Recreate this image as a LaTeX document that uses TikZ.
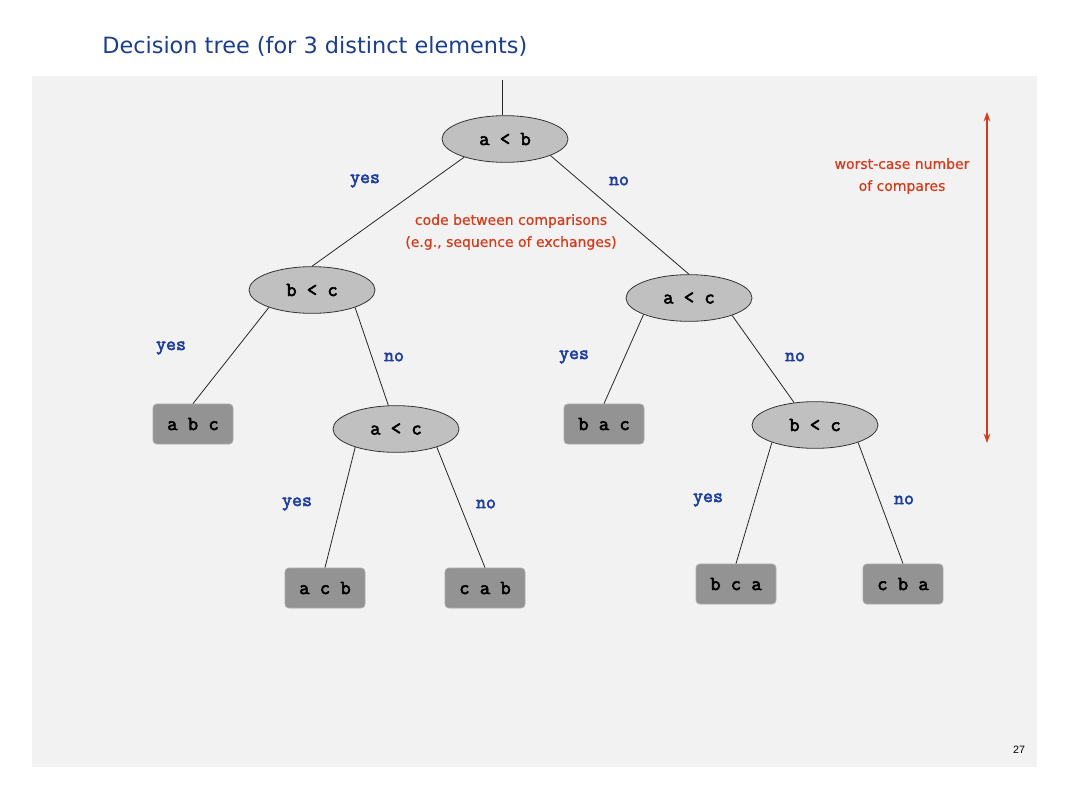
\documentclass[tikz,border=0pt]{standalone}
\usepackage{fontspec}
\setmainfont{DejaVu Sans}
\newfontfamily\codefont{Latin Modern Mono}[FakeBold=3]
\newfontfamily\comicfont{DejaVu Sans}
\newfontfamily\notefont{DejaVu Sans}[FakeBold=0.6]
\newfontfamily\numfont{Liberation Sans}
\usetikzlibrary{shapes.geometric,arrows.meta}
\definecolor{bgray}{HTML}{F2F2F2}
\definecolor{titleblue}{HTML}{1B3F8B}
\definecolor{labblue}{HTML}{1E3F9E}
\definecolor{redtxt}{HTML}{D43A1C}
\definecolor{ellfill}{HTML}{C0C0C0}
\definecolor{leaffill}{HTML}{939393}
\definecolor{leafdraw}{HTML}{A8A8A8}
\tikzset{
  cmp/.style={ellipse, draw=black!80, fill=ellfill, line width=0.6pt, minimum width=94.5pt, minimum height=35pt, inner sep=0pt, font=\codefont\fontsize{15}{17}\selectfont},
  leaf/.style={rectangle, rounded corners=3pt, draw=leafdraw, fill=leaffill, line width=0.6pt, minimum width=60pt, minimum height=30pt, inner sep=0pt, font=\codefont\fontsize{15}{17}\selectfont},
  lab/.style={text=labblue, font=\codefont\fontsize{14.5}{16}\selectfont, inner sep=0pt},
  note/.style={text=redtxt, font=\notefont\fontsize{10.5}{16.5}\selectfont, align=center, inner sep=0pt},
  edge/.style={draw=black!85, line width=0.6pt}
}
\begin{document}
\begin{tikzpicture}[x=0.75pt,y=-0.75pt]
\useasboundingbox (0,0) rectangle (1077,796);
\fill[white] (0,0) rectangle (1077,796);
\fill[bgray] (32,76) rectangle (1037,767);
\node[anchor=west, text=titleblue, font=\comicfont\fontsize{16.8}{19}\selectfont, inner sep=0pt] (title) at (102,46) {Decision tree (for 3 distinct elements)};

\node[cmp] (root) at (505,139) {a < b};
\node[cmp] (bc1) at (312,290) {b < c};
\node[cmp] (ac2) at (689,298) {a < c};
\node[cmp] (ac1) at (396,429) {a < c};
\node[cmp] (bc2) at (815,425) {b < c};

\node[leaf] (abc) at (193,424) {a b c};
\node[leaf] (bac) at (604,424) {b a c};
\node[leaf] (acb) at (325,588) {a c b};
\node[leaf] (cab) at (485,588) {c a b};
\node[leaf] (bca) at (736,584) {b c a};
\node[leaf] (cba) at (903,584) {c b a};

\coordinate (top) at (502,80);
\draw[edge] (top) -- (top |- root.north);
\draw[edge] (root.204) -- (bc1.north);
\draw[edge] (root.340) -- (ac2.north);
\draw[edge] (bc1.202) -- (abc.north);
\draw[edge] (bc1.338) -- (ac1.108);
\draw[edge] (ac2.200) -- (bac.north);
\draw[edge] (ac2.338) -- (bc2.133);
\draw[edge] (ac1.204) -- (acb.north);
\draw[edge] (ac1.336) -- (cab.north);
\draw[edge] (bc2.202) -- (bca.north);
\draw[edge] (bc2.338) -- (cba.north);

\node[lab] (l1) at (365,181) {yes};
\node[lab] (l2) at (619,181) {no};
\node[lab] (l3) at (171,348) {yes};
\node[lab] (l4) at (394,357) {no};
\node[lab] (l5) at (574,357) {yes};
\node[lab] (l6) at (795,357) {no};
\node[lab] (l7) at (297,504) {yes};
\node[lab] (l8) at (486,504) {no};
\node[lab] (l9) at (708,500) {yes};
\node[lab] (l10) at (904,500) {no};

\node[note] (code) at (511,232) {code between comparisons\\(e.g., sequence of exchanges)};
\node[note] (worst) at (902,176) {worst-case number\\of compares};

\coordinate (atop) at (987,112);
\coordinate (abot) at (987,443);
\draw[redtxt, line width=1.4pt, {Stealth[length=7pt,width=5pt]}-{Stealth[length=7pt,width=5pt]}] (atop) -- (abot);

\node[font=\numfont\fontsize{8}{10}\selectfont, inner sep=0pt] (pg) at (1019,750) {27};
\end{tikzpicture}
\end{document}
